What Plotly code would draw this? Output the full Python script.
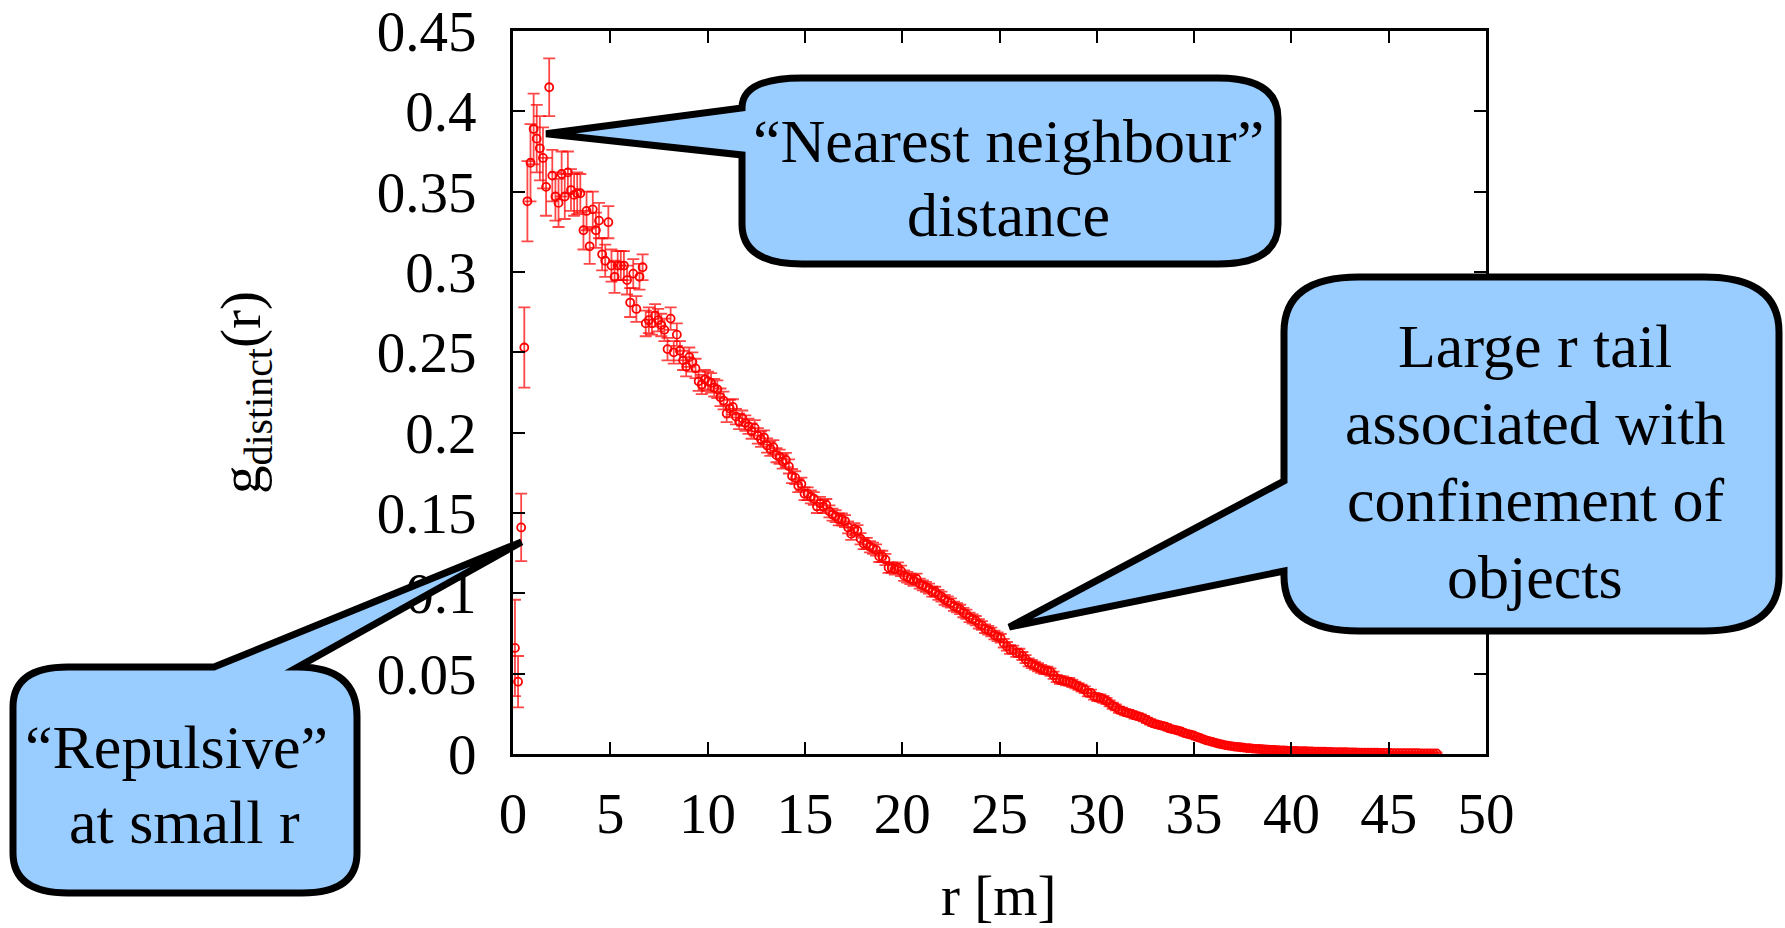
import plotly.graph_objects as go

# ---------------- data ----------------
r_m = [
    0.10, 0.26, 0.42, 0.58, 0.74, 0.90, 1.06, 1.22, 1.38, 1.54,
    1.70, 1.86, 2.02, 2.18, 2.34, 2.50, 2.66, 2.82, 2.98, 3.14,
    3.30, 3.46, 3.62, 3.78, 3.94, 4.10, 4.26, 4.42, 4.58, 4.74,
    4.90, 5.06, 5.22, 5.38, 5.54, 5.70, 5.86, 6.02, 6.18, 6.34,
    6.50, 6.66, 6.82, 6.98, 7.14, 7.30, 7.46, 7.62, 7.78, 7.94,
    8.10, 8.26, 8.42, 8.58, 8.74, 8.90, 9.06, 9.22, 9.38, 9.54,
    9.70, 9.86, 10.02, 10.18, 10.34, 10.50, 10.66, 10.82, 10.98, 11.14,
    11.30, 11.46, 11.62, 11.78, 11.94, 12.10, 12.26, 12.42, 12.58, 12.74,
    12.90, 13.06, 13.22, 13.38, 13.54, 13.70, 13.86, 14.02, 14.18, 14.34,
    14.50, 14.66, 14.82, 14.98, 15.14, 15.30, 15.46, 15.62, 15.78, 15.94,
    16.10, 16.26, 16.42, 16.58, 16.74, 16.90, 17.06, 17.22, 17.38, 17.54,
    17.70, 17.86, 18.02, 18.18, 18.34, 18.50, 18.66, 18.82, 18.98, 19.14,
    19.30, 19.46, 19.62, 19.78, 19.94, 20.10, 20.26, 20.42, 20.58, 20.74,
    20.90, 21.06, 21.22, 21.38, 21.54, 21.70, 21.86, 22.02, 22.18, 22.34,
    22.50, 22.66, 22.82, 22.98, 23.14, 23.30, 23.46, 23.62, 23.78, 23.94,
    24.10, 24.26, 24.42, 24.58, 24.74, 24.90, 25.06, 25.22, 25.38, 25.54,
    25.70, 25.86, 26.02, 26.18, 26.34, 26.50, 26.66, 26.82, 26.98, 27.14,
    27.30, 27.46, 27.62, 27.78, 27.94, 28.10, 28.26, 28.42, 28.58, 28.74,
    28.90, 29.06, 29.22, 29.38, 29.54, 29.70, 29.86, 30.02, 30.18, 30.34,
    30.50, 30.66, 30.82, 30.98, 31.14, 31.30, 31.46, 31.62, 31.78, 31.94,
    32.10, 32.26, 32.42, 32.58, 32.74, 32.90, 33.06, 33.22, 33.38, 33.54,
    33.70, 33.86, 34.02, 34.18, 34.34, 34.50, 34.66, 34.82, 34.98, 35.14,
    35.30, 35.46, 35.62, 35.78, 35.94, 36.10, 36.26, 36.42, 36.58, 36.74,
    36.90, 37.06, 37.22, 37.38, 37.54, 37.70, 37.86, 38.02, 38.18, 38.34,
    38.50, 38.66, 38.82, 38.98, 39.14, 39.30, 39.46, 39.62, 39.78, 39.94,
    40.10, 40.26, 40.42, 40.58, 40.74, 40.90, 41.06, 41.22, 41.38, 41.54,
    41.70, 41.86, 42.02, 42.18, 42.34, 42.50, 42.66, 42.82, 42.98, 43.14,
    43.30, 43.46, 43.62, 43.78, 43.94, 44.10, 44.26, 44.42, 44.58, 44.74,
    44.90, 45.06, 45.22, 45.38, 45.54, 45.70, 45.86, 46.02, 46.18, 46.34,
    46.50, 46.66, 46.82, 46.98, 47.14, 47.30, 47.46,
]

g_distinct = [
    0.066, 0.045, 0.141, 0.253, 0.344, 0.368, 0.389, 0.383, 0.377, 0.371,
    0.353, 0.415, 0.360, 0.347, 0.343, 0.361, 0.347, 0.362, 0.351, 0.348,
    0.349, 0.349, 0.326, 0.338, 0.316, 0.339, 0.326, 0.332, 0.311, 0.307,
    0.331, 0.304, 0.297, 0.304, 0.304, 0.304, 0.295, 0.281, 0.299, 0.277,
    0.297, 0.303, 0.268, 0.270, 0.268, 0.273, 0.270, 0.267, 0.264, 0.252,
    0.271, 0.250, 0.261, 0.251, 0.245, 0.241, 0.247, 0.244, 0.240, 0.232,
    0.230, 0.233, 0.232, 0.231, 0.228, 0.227, 0.222, 0.220, 0.212, 0.215,
    0.216, 0.210, 0.207, 0.209, 0.206, 0.204, 0.201, 0.203, 0.198, 0.196,
    0.197, 0.192, 0.190, 0.191, 0.186, 0.185, 0.182, 0.183, 0.179, 0.173,
    0.172, 0.167, 0.168, 0.162, 0.162, 0.160, 0.159, 0.154, 0.156, 0.154,
    0.155, 0.151, 0.149, 0.148, 0.146, 0.146, 0.145, 0.141, 0.137, 0.140,
    0.139, 0.134, 0.131, 0.131, 0.129, 0.128, 0.127, 0.123, 0.123, 0.121,
    0.116, 0.116, 0.115, 0.116, 0.114, 0.111, 0.110, 0.109, 0.108, 0.109,
    0.106, 0.105, 0.104, 0.103, 0.101, 0.101, 0.099, 0.098, 0.096, 0.095,
    0.094, 0.092, 0.091, 0.090, 0.088, 0.087, 0.085, 0.084, 0.083, 0.081,
    0.080, 0.078, 0.077, 0.076, 0.074, 0.073, 0.072, 0.069, 0.067, 0.065,
    0.065, 0.063, 0.063, 0.061, 0.059, 0.057, 0.056, 0.055, 0.054, 0.053,
    0.052, 0.052, 0.051, 0.049, 0.047, 0.046, 0.046, 0.045, 0.045, 0.044,
    0.043, 0.042, 0.041, 0.040, 0.038, 0.038, 0.036, 0.035, 0.035, 0.034,
    0.033, 0.0315, 0.030, 0.029, 0.0275, 0.027, 0.026, 0.0255, 0.025, 0.024,
    0.0235, 0.023, 0.022, 0.021, 0.020, 0.019, 0.0185, 0.018, 0.0175, 0.017,
    0.016, 0.0155, 0.015, 0.0145, 0.014, 0.013, 0.0125, 0.012, 0.0115, 0.0105,
    0.010, 0.0093, 0.0085, 0.008, 0.0075, 0.0069, 0.0064, 0.006, 0.0055, 0.0052,
    0.0049, 0.0046, 0.0044, 0.0042, 0.0040, 0.0037, 0.0036, 0.0034, 0.0032, 0.0031,
    0.0030, 0.0029, 0.0027, 0.0026, 0.0025, 0.0024, 0.0023, 0.0022, 0.0021, 0.0020,
    0.0020, 0.0019, 0.0018, 0.0018, 0.0017, 0.0016, 0.0016, 0.0015, 0.0015, 0.0014,
    0.0014, 0.0013, 0.0013, 0.0012, 0.0012, 0.0011, 0.0011, 0.0011, 0.0010, 0.0010,
    0.0010, 0.0009, 0.0009, 0.0009, 0.0008, 0.0008, 0.0008, 0.0008, 0.0007, 0.0007,
    0.0007, 0.0007, 0.0006, 0.0006, 0.0006, 0.0006, 0.0005, 0.0005, 0.0005, 0.0005,
    0.0005, 0.0004, 0.0004, 0.0004, 0.0004, 0.0004, 0.0004,
]

g_err = [
    0.030, 0.016, 0.021, 0.025, 0.025, 0.024, 0.022, 0.021, 0.020, 0.019,
    0.018, 0.018, 0.016, 0.015, 0.015, 0.014, 0.014, 0.013, 0.013, 0.013,
    0.013, 0.012, 0.012, 0.012, 0.011, 0.011, 0.011, 0.011, 0.010, 0.010,
    0.010, 0.010, 0.010, 0.009, 0.009, 0.009, 0.009, 0.009, 0.009, 0.008,
    0.008, 0.008, 0.008, 0.008, 0.007, 0.007, 0.007, 0.007, 0.007, 0.007,
    0.007, 0.007, 0.007, 0.006, 0.006, 0.006, 0.006, 0.006, 0.006, 0.006,
    0.006, 0.006, 0.006, 0.006, 0.0055, 0.0055, 0.0055, 0.0055, 0.0055, 0.0055,
    0.0048, 0.0048, 0.0048, 0.0048, 0.0048, 0.0048, 0.0048, 0.0048, 0.0048, 0.0048,
    0.0044, 0.0044, 0.0044, 0.0044, 0.0044, 0.0044, 0.0044, 0.0044, 0.0044, 0.0044,
    0.0040, 0.0040, 0.0040, 0.0040, 0.0040, 0.0040, 0.0040, 0.0040, 0.0040, 0.0040,
    0.0037, 0.0037, 0.0037, 0.0037, 0.0037, 0.0037, 0.0037, 0.0037, 0.0037, 0.0037,
    0.0035, 0.0035, 0.0035, 0.0035, 0.0035, 0.0035, 0.0035, 0.0035, 0.0035, 0.0035,
    0.0033, 0.0033, 0.0033, 0.0033, 0.0033, 0.0033, 0.0033, 0.0033, 0.0033, 0.0033,
    0.0031, 0.0031, 0.0031, 0.0031, 0.0031, 0.0031, 0.0031, 0.0031, 0.0031, 0.0031,
    0.0029, 0.0029, 0.0029, 0.0029, 0.0029, 0.0029, 0.0029, 0.0029, 0.0029, 0.0029,
    0.0027, 0.0027, 0.0027, 0.0027, 0.0027, 0.0027, 0.0027, 0.0027, 0.0027, 0.0027,
    0.0025, 0.0025, 0.0025, 0.0025, 0.0025, 0.0025, 0.0025, 0.0025, 0.0025, 0.0025,
    0.0023, 0.0023, 0.0023, 0.0023, 0.0023, 0.0023, 0.0023, 0.0023, 0.0023, 0.0023,
    0.0021, 0.0021, 0.0021, 0.0021, 0.0021, 0.0021, 0.0021, 0.0021, 0.0021, 0.0021,
    0.0019, 0.0019, 0.0019, 0.0019, 0.0019, 0.0019, 0.0019, 0.0019, 0.0019, 0.0019,
    0.0017, 0.0017, 0.0017, 0.0017, 0.0017, 0.0017, 0.0017, 0.0017, 0.0017, 0.0017,
    0.0015, 0.0015, 0.0015, 0.0015, 0.0015, 0.0015, 0.0015, 0.0015, 0.0015, 0.0015,
    0.0013, 0.0013, 0.0013, 0.0013, 0.0013, 0.0013, 0.0013, 0.0013, 0.0013, 0.0013,
    0.0012, 0.0012, 0.0012, 0.0012, 0.0012, 0.0012, 0.0012, 0.0012, 0.0012, 0.0012,
    0.0011, 0.0011, 0.0011, 0.0011, 0.0011, 0.0011, 0.0011, 0.0011, 0.0011, 0.0011,
    0.0010, 0.0010, 0.0010, 0.0010, 0.0010, 0.0010, 0.0010, 0.0010, 0.0010, 0.0010,
    0.0009, 0.0009, 0.0009, 0.0009, 0.0009, 0.0009, 0.0009, 0.0009, 0.0009, 0.0009,
    0.0008, 0.0008, 0.0008, 0.0008, 0.0008, 0.0008, 0.0008, 0.0008, 0.0008, 0.0008,
    0.0007, 0.0007, 0.0007, 0.0007, 0.0007, 0.0007, 0.0007, 0.0007, 0.0007, 0.0007,
    0.0006, 0.0006, 0.0006, 0.0006, 0.0006, 0.0006, 0.0006,
]

x_tick_values = [0, 5, 10, 15, 20, 25, 30, 35, 40, 45, 50]
x_tick_labels = ["0", "5", "10", "15", "20", "25", "30", "35", "40", "45", "50"]
y_tick_values = [0, 0.05, 0.1, 0.15, 0.2, 0.25, 0.3, 0.35, 0.4, 0.45]
y_tick_labels = ["0", "0.05", "0.1", "0.15", "0.2", "0.25", "0.3", "0.35", "0.4", "0.45"]

x_title = "r [m]"
y_title = "g<sub>distinct</sub>(r)"

callout_near_lines = ["\u201cNearest neighbour\u201d", "distance"]
callout_tail_lines = ["Large r tail", "associated with", "confinement of", "objects"]
callout_rep_lines = ["\u201cRepulsive\u201d", "at small r"]

# points the callouts refer to (data coordinates)
near_tip = (1.7, 0.386)
tail_tip = (25.5, 0.079)
rep_tip = (0.44, 0.132)

# ---------------- layout geometry ----------------
W, H = 1785, 928
ML, MR, MT, MB = 513, 299, 31, 174
PW = W - ML - MR
PH = H - MT - MB
X_RANGE = [0, 50]
Y_RANGE = [0, 0.45]

SERIF = "Liberation Serif, Times New Roman, serif"
BUBBLE_FILL = "#99ccff"


def pp(x, y):
    """figure pixel -> paper coords"""
    return ((x - ML) / PW, (H - MB - y) / PH)


def dp(x, y):
    """data -> paper coords"""
    return ((x - X_RANGE[0]) / (X_RANGE[1] - X_RANGE[0]),
            (y - Y_RANGE[0]) / (Y_RANGE[1] - Y_RANGE[0]))


def make_path(segs):
    out = []
    for seg in segs:
        cmd = seg[0]
        pts = seg[1:]
        s = cmd
        for (x, y) in pts:
            s += " %.5f,%.5f" % (x, y)
        out.append(s)
    return " ".join(out)


P = pp

# "Nearest neighbour" bubble
L, R, T, B, rx, ry = 742, 1278, 78, 264, 60, 40
path_near = make_path([
    ("M", dp(*near_tip)),
    ("L", P(L, 108)),
    ("Q", P(L, T), P(L + rx, T)),
    ("L", P(R - rx, T)),
    ("Q", P(R, T), P(R, T + ry)),
    ("L", P(R, B - ry)),
    ("Q", P(R, B), P(R - rx, B)),
    ("L", P(L + rx, B)),
    ("Q", P(L, B), P(L, B - ry)),
    ("L", P(L, 155)),
    ("Z",),
])

# "Large r tail" bubble
L, R, T, B, rx, ry = 1284, 1779, 277, 631, 75, 55
path_tail = make_path([
    ("M", dp(*tail_tip)),
    ("L", P(L, 481)),
    ("L", P(L, T + ry)),
    ("Q", P(L, T), P(L + rx, T)),
    ("L", P(R - rx, T)),
    ("Q", P(R, T), P(R, T + ry)),
    ("L", P(R, B - ry)),
    ("Q", P(R, B), P(R - rx, B)),
    ("L", P(L + rx, B)),
    ("Q", P(L, B), P(L, B - ry)),
    ("L", P(L, 571)),
    ("Z",),
])

# "Repulsive" bubble
L, R, T, B, rx, ry = 13, 357, 667, 893, 55, 40
path_rep = make_path([
    ("M", P(L + rx, T)),
    ("L", P(214, T)),
    ("L", dp(*rep_tip)),
    ("L", P(298, T)),
    ("Q", P(R, T), P(R, T + 50)),
    ("L", P(R, B - ry)),
    ("Q", P(R, B), P(R - rx, B)),
    ("L", P(L + rx, B)),
    ("Q", P(L, B), P(L, B - ry)),
    ("L", P(L, T + ry)),
    ("Q", P(L, T), P(L + rx, T)),
    ("Z",),
])

shapes = []
for pth in (path_near, path_tail, path_rep):
    shapes.append(dict(type="path", path=pth, xref="paper", yref="paper",
                       fillcolor=BUBBLE_FILL, line=dict(color="black", width=7),
                       layer="above"))

annotations = []


def add_text(txt, x, y, size=62, angle=0):
    xp, yp = pp(x, y)
    annotations.append(dict(text=txt, x=xp, y=yp, xref="paper", yref="paper",
                            showarrow=False, xanchor="center", yanchor="middle",
                            textangle=angle,
                            font=dict(family=SERIF, size=size, color="black")))


for txt, y in zip(callout_near_lines, [141, 215]):
    add_text(txt, 1008, y)
for txt, y in zip(callout_tail_lines, [346, 423, 500, 577]):
    add_text(txt, 1535, y)
add_text(callout_rep_lines[0], 176, 747)
add_text(callout_rep_lines[1], 184, 822)

# axis titles
add_text(x_title, 999, 895, size=57)
add_text(y_title, 245, 393, size=57, angle=-90)

fig = go.Figure()
fig.add_trace(go.Scatter(
    x=r_m, y=g_distinct, mode="markers", name="g_distinct",
    marker=dict(symbol="circle-open", size=8, color="rgb(255,0,0)",
                line=dict(width=1.8, color="rgb(255,0,0)")),
    error_y=dict(type="data", array=g_err, visible=True,
                 color="rgba(255,0,0,0.72)", thickness=1.8, width=6),
    showlegend=False,
))

axis_common = dict(
    showgrid=False, zeroline=False, showline=True, linecolor="black", linewidth=3,
    mirror="ticks", ticks="inside", ticklen=12, tickwidth=2, tickcolor="black",
    tickfont=dict(family=SERIF, size=57, color="black"),
    ticklabeloverflow="allow", automargin=False,
)

fig.update_layout(
    width=W, height=H, autosize=False,
    margin=dict(l=ML, r=MR, t=MT, b=MB, pad=0, autoexpand=False),
    paper_bgcolor="white", plot_bgcolor="white",
    xaxis=dict(range=X_RANGE, tickmode="array", tickvals=x_tick_values,
               ticktext=x_tick_labels, ticklabelstandoff=8, **axis_common),
    yaxis=dict(range=Y_RANGE, tickmode="array", tickvals=y_tick_values,
               ticktext=y_tick_labels, ticklabelstandoff=22, **axis_common),
    shapes=shapes,
    annotations=annotations,
)

fig.write_html("out.html")
